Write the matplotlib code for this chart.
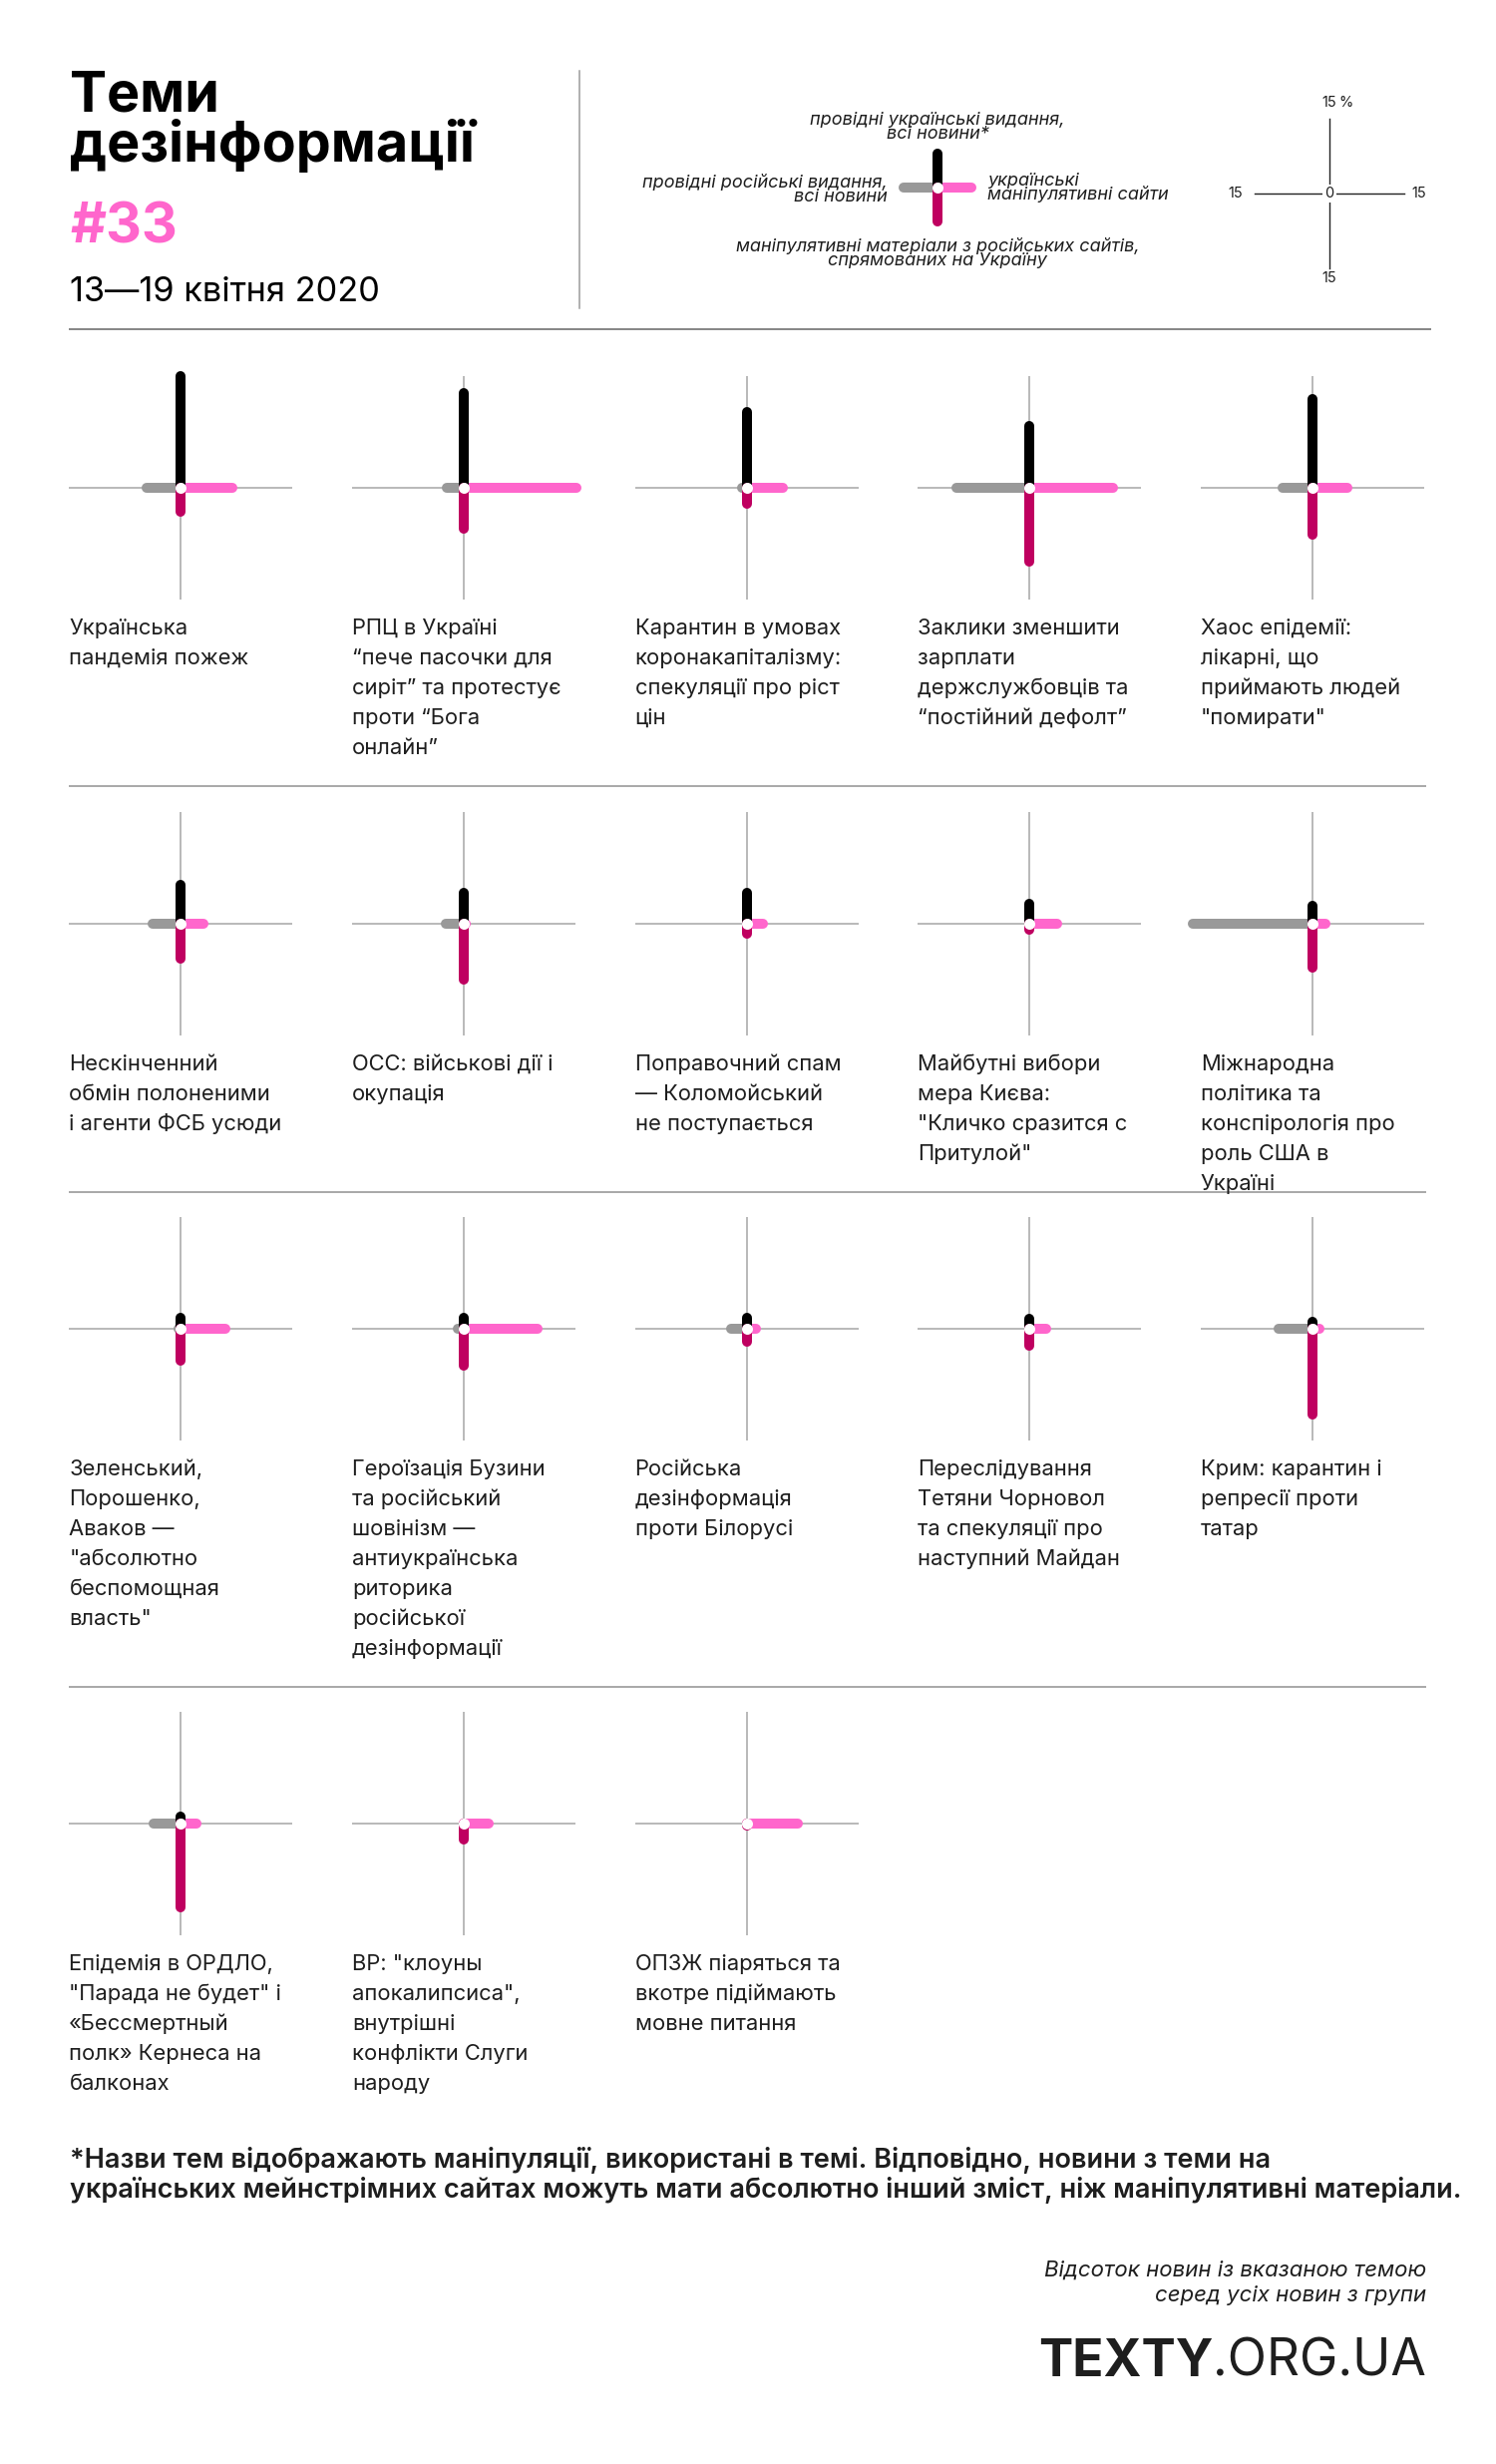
import matplotlib
matplotlib.use('Agg')
import matplotlib.pyplot as plt
from matplotlib.lines import Line2D

# ---------------- data ----------------
topics = [
    "Українська\nпандемія пожеж",
    "РПЦ в Україні\n“пече пасочки для\nсиріт” та протестує\nпроти “Бога\nонлайн”",
    "Карантин в умовах\nкоронакапіталізму:\nспекуляції про ріст\nцін",
    "Заклики зменшити\nзарплати\nдержслужбовців та\n“постійний дефолт”",
    "Хаос епідемії:\nлікарні, що\nприймають людей\n\"помирати\"",
    "Нескінченний\nобмін полоненими\nі агенти ФСБ усюди",
    "ОСС: військові дії і\nокупація",
    "Поправочний спам\n— Коломойський\nне поступається",
    "Майбутні вибори\nмера Києва:\n\"Кличко сразится с\nПритулой\"",
    "Міжнародна\nполітика та\nконспірологія про\nроль США в\nУкраїні",
    "Зеленський,\nПорошенко,\nАваков —\n\"абсолютно\nбеспомощная\nвласть\"",
    "Героїзація Бузини\nта російський\nшовінізм —\nантиукраїнська\nриторика\nросійської\nдезінформації",
    "Російська\nдезінформація\nпроти Білорусі",
    "Переслідування\nТетяни Чорновол\nта спекуляції про\nнаступний Майдан",
    "Крим: карантин і\nрепресії проти\nтатар",
    "Епідемія в ОРДЛО,\n\"Парада не будет\" і\n«Бессмертный\nполк» Кернеса на\nбалконах",
    "ВР: \"клоуны\nапокалипсиса\",\nвнутрішні\nконфлікти Слуги\nнароду",
    "ОПЗЖ піаряться та\nвкотре підіймають\nмовне питання",
]
# % of news with the topic (up: UA mainstream, down: RU manipulative sites,
# left: RU mainstream, right: UA manipulative sites)
ua_mainstream = [22.3, 19.0, 15.1, 12.4, 17.8, 7.8, 6.2, 6.2, 3.9, 3.5,
                 2.2, 2.2, 2.1, 1.9, 1.4, 1.5, 0.1, 0.0]
ru_manip = [4.9, 8.3, 3.3, 14.9, 9.5, 7.1, 11.3, 2.1, 1.3, 8.9,
            6.4, 7.5, 2.7, 3.4, 17.3, 16.9, 3.3, 0.5]
ru_mainstream = [6.9, 3.5, 0.9, 14.7, 6.0, 5.8, 3.7, 0.0, 0.0, 24.1,
                 0.4, 1.3, 3.2, 0.0, 6.7, 5.6, 0.0, 0.0]
ua_manip = [10.4, 22.7, 7.3, 16.8, 7.1, 4.6, 0.5, 3.3, 5.6, 2.6,
            8.9, 14.9, 1.9, 3.3, 1.5, 3.2, 5.0, 10.4]

scale_ticks = ["15", "15", "15", "0"]
legend_value = 6.8

# ---------------- style / layout ----------------
W, H, DPI = 1500, 2470, 100
FONT = ['Inter', 'Lato', 'DejaVu Sans']
plt.rcParams['font.family'] = FONT

C_UA_MAIN = '#000000'
C_RU_MANIP = '#BF0060'
C_RU_MAIN = '#999999'
C_UA_MANIP = '#FF66CC'
C_AXIS = '#aaaaaa'
C_TEXT = '#1e1e1e'

BAR_LW = 10 * 72 / DPI      # 10 px
AX_LW = 1.6 * 72 / DPI
HALF = 112                  # px, half size of panel
LIM = 22.5                  # data units for HALF

col_x = [181.4, 465.0, 748.6, 1032.2, 1315.8]
row_y = [488.5, 925.7, 1331.7, 1828.0]
label_dy = 147
line_h = 30

fig = plt.figure(figsize=(W / DPI, H / DPI), dpi=DPI)
fig.patch.set_facecolor('white')


def fx(x):
    return x / W


def fy(y):
    return 1 - y / H


def ftext(x, y, s, **kw):
    kw.setdefault('color', C_TEXT)
    kw.setdefault('va', 'baseline')
    return fig.text(fx(x), fy(y), s, **kw)


def hline(x0, x1, y, color, lw):
    fig.add_artist(Line2D([fx(x0), fx(x1)], [fy(y), fy(y)], color=color,
                          lw=lw * 72 / DPI, transform=fig.transFigure))


def vline(x, y0, y1, color, lw):
    fig.add_artist(Line2D([fx(x), fx(x)], [fy(y0), fy(y1)], color=color,
                          lw=lw * 72 / DPI, transform=fig.transFigure))


def panel_axes(cx, cy):
    ax = fig.add_axes([fx(cx - HALF), fy(cy + HALF), 2 * HALF / W, 2 * HALF / H])
    ax.set_xlim(-LIM, LIM)
    ax.set_ylim(-LIM, LIM)
    ax.axis('off')
    return ax


def draw_cross(ax, up, down, left, right, axis=True):
    if axis:
        ax.plot([-LIM, LIM], [0, 0], color=C_AXIS, lw=AX_LW, zorder=1,
                solid_capstyle='butt')
        ax.plot([0, 0], [-LIM, LIM], color=C_AXIS, lw=AX_LW, zorder=1,
                solid_capstyle='butt')
    if left > 0:
        ax.plot([0, -left], [0, 0], color=C_RU_MAIN, lw=BAR_LW,
                solid_capstyle='round', zorder=2, clip_on=False)
    if right > 0:
        ax.plot([0, right], [0, 0], color=C_UA_MANIP, lw=BAR_LW,
                solid_capstyle='round', zorder=2, clip_on=False)
    if up > 0:
        ax.plot([0, 0], [0, up], color=C_UA_MAIN, lw=BAR_LW,
                solid_capstyle='round', zorder=3, clip_on=False)
    if down > 0:
        ax.plot([0, 0], [0, -down], color=C_RU_MANIP, lw=BAR_LW,
                solid_capstyle='round', zorder=3, clip_on=False)
    ax.plot([0], [0], marker='o', ms=11 * 72 / DPI, mfc='white', mec='white',
            mew=0, zorder=5, clip_on=False)


# ---------------- header ----------------
ftext(70, 111, "Теми", fontsize=40, fontweight='bold', color='black')
ftext(70, 162, "дезінформації", fontsize=40, fontweight='bold', color='black')
ftext(70, 244, "#33", fontsize=40, fontweight='bold', color=C_UA_MANIP)
ftext(70, 302, "13—19 квітня 2020", fontsize=24.7, color='black')

vline(581, 71, 309, '#999999', 1.5)
hline(70, 1434, 330, '#888888', 2)

# legend cross
lax = panel_axes(940, 188)
draw_cross(lax, legend_value, legend_value, legend_value, legend_value, axis=False)
it = dict(fontsize=13, style='italic', color=C_TEXT)
ftext(940, 125, "провідні українські видання,", ha='center', **it)
ftext(940, 139, "всі новини*", ha='center', **it)
ftext(890, 188, "провідні російські видання,", ha='right', **it)
ftext(890, 202, "всі новини", ha='right', **it)
ftext(990, 186, "українські", ha='left', **it)
ftext(990, 200, "маніпулятивні сайти", ha='left', **it)
ftext(940, 252, "маніпулятивні матеріали з російських сайтів,", ha='center', **it)
ftext(940, 266, "спрямованих на Україну", ha='center', **it)

# scale cross
sax = panel_axes(1333, 194)
sax.plot([-15, 15], [0, 0], color='#222222', lw=1.4 * 72 / DPI)
sax.plot([0, 0], [-15, 15], color='#222222', lw=1.4 * 72 / DPI)
sfs = 10.5
sax.text(0, 18.3, scale_ticks[0], ha='center', va='center', fontsize=sfs, color=C_TEXT)
sax.text(1.8, 18.3, "%", ha='left', va='center', fontsize=sfs, color=C_TEXT)
sax.text(-17.4, 0, scale_ticks[1], ha='right', va='center', fontsize=sfs, color=C_TEXT)
sax.text(16.6, 0, scale_ticks[2], ha='left', va='center', fontsize=sfs, color=C_TEXT)
sax.text(0, -17.1, scale_ticks[0], ha='center', va='center', fontsize=sfs, color=C_TEXT)
sax.text(0, 0, scale_ticks[3], ha='center', va='center', fontsize=sfs, color=C_TEXT,
         bbox=dict(facecolor='white', edgecolor='none', pad=1.5))

# ---------------- panels ----------------
for i, name in enumerate(topics):
    r, c = divmod(i, 5)
    cx, cy = col_x[c], row_y[r]
    ax = panel_axes(cx, cy)
    draw_cross(ax, ua_mainstream[i], ru_manip[i], ru_mainstream[i], ua_manip[i])
    for k, line in enumerate(name.split("\n")):
        ftext(cx - HALF, cy + label_dy + k * line_h, line, fontsize=15.8, ha='left')

for y in [788, 1195, 1690.6]:
    hline(70, 1429, y, '#aaaaaa', 2)

# ---------------- footer ----------------
fn = dict(fontsize=19.5, fontweight='semibold', color=C_TEXT, ha='left')
ftext(70, 2172.7, "*Назви тем відображають маніпуляції, використані в темі. Відповідно, новини з теми на", **fn)
ftext(70, 2203.3, "українських мейнстрімних сайтах можуть мати абсолютно інший зміст, ніж маніпулятивні матеріали.", **fn)

src = dict(fontsize=16, style='italic', color=C_TEXT, ha='right')
ftext(1430, 2282, "Відсоток новин із вказаною темою", **src)
ftext(1430, 2307, "серед усіх новин з групи", **src)

t2 = ftext(1430, 2382, ".ORG.UA", fontsize=37, fontweight='normal', ha='right', color='#1e1e1e')
fig.canvas.draw()
bb = t2.get_window_extent(fig.canvas.get_renderer())
ftext(bb.x0, 2382, "TEXTY", fontsize=37, fontweight='bold', ha='right', color='#1e1e1e')

fig.savefig('out.png', dpi=DPI, facecolor='white')
